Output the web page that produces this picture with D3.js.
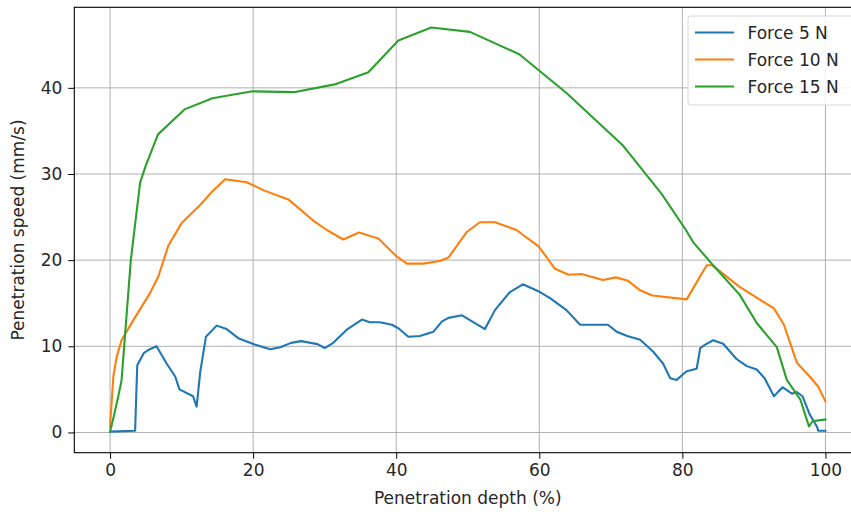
<!DOCTYPE html>
<html>
<head>
<meta charset="utf-8">
<script src="https://cdn.jsdelivr.net/npm/d3@7"></script>
<style>
  html, body { margin: 0; padding: 0; background: #fff; }
  svg { display: block; }
  text { font-family: "DejaVu Sans", sans-serif; fill: #262626; }
</style>
</head>
<body>
<svg id="chart" width="851" height="512"></svg>
<script>
// ---- data ----
const seriesNames = ["Force 5 N", "Force 10 N", "Force 15 N"];
const seriesColors = ["#1f77b4", "#ff7f0e", "#2ca02c"];

const force5 = [[0,0.1],[3.5,0.2],[3.8,7.8],[4.7,9.2],[5.4,9.6],[6.5,10.0],[7.9,8.0],[9.1,6.5],[9.7,5.0],[11.6,4.2],[12.1,3.0],[12.6,7.0],[13.4,11.1],[14.9,12.4],[16.3,12.0],[18.0,10.9],[20.2,10.2],[22.4,9.65],[23.8,9.9],[25.3,10.4],[26.7,10.6],[29.0,10.25],[30.0,9.8],[31.2,10.4],[33.2,12.0],[35.2,13.1],[36.3,12.8],[37.7,12.8],[39.4,12.5],[40.3,12.1],[41.7,11.1],[43.3,11.2],[45.2,11.7],[46.4,12.9],[47.3,13.3],[49.2,13.6],[52.4,12.0],[53.8,14.2],[55.9,16.3],[57.7,17.2],[60.1,16.3],[61.5,15.6],[63.8,14.2],[65.7,12.5],[69.6,12.5],[70.8,11.7],[72.3,11.2],[74.1,10.75],[75.9,9.4],[77.3,8.0],[78.3,6.3],[79.2,6.1],[80.6,7.1],[82.0,7.4],[82.5,9.8],[83.2,10.2],[84.3,10.7],[85.7,10.3],[87.6,8.5],[89.0,7.7],[90.4,7.3],[91.5,6.3],[92.8,4.2],[94.0,5.25],[95.3,4.5],[96.0,4.7],[96.8,4.2],[97.8,2.1],[98.8,0.7],[99.0,0.2],[100,0.2]];

const force10 = [[0,0.7],[0.46,6.5],[0.93,8.8],[1.6,10.7],[3.3,13.1],[5.6,16.2],[6.75,18.1],[8.15,21.7],[10.0,24.3],[12.6,26.4],[14.2,27.9],[16.1,29.4],[19.1,29.05],[21.5,28.1],[25.0,27.0],[28.4,24.6],[30.3,23.5],[32.6,22.4],[34.8,23.2],[37.5,22.5],[40.1,20.4],[41.5,19.6],[43.8,19.6],[46.1,19.9],[47.3,20.3],[49.9,23.3],[51.7,24.4],[53.8,24.4],[56.8,23.5],[59.9,21.6],[62.2,19.0],[64.1,18.3],[65.9,18.4],[68.9,17.7],[70.7,18.0],[72.4,17.6],[74.1,16.5],[75.8,15.9],[80.6,15.45],[83.4,19.4],[84.2,19.4],[88.0,16.9],[92.8,14.4],[94.2,12.5],[96.0,8.1],[97.8,6.5],[99.0,5.3],[100,3.6]];

const force15 = [[0,0.1],[0.5,1.8],[1.2,4.4],[1.6,6.0],[2.9,20.0],[4.2,29.0],[5.0,31.0],[6.7,34.6],[10.4,37.5],[14.3,38.8],[19.9,39.6],[25.7,39.5],[31.4,40.4],[36.1,41.8],[40.3,45.5],[44.9,47.0],[50.3,46.5],[57.2,43.9],[63.8,39.4],[71.7,33.3],[77.1,27.7],[80.5,23.5],[81.5,22.1],[84.3,19.4],[88.0,16.0],[90.4,12.7],[93.2,9.9],[94.6,6.1],[96.5,3.8],[97.7,0.7],[98.2,1.3],[99.0,1.4],[100,1.5]];

const xTicks = [0, 20, 40, 60, 80, 100];
const yTicks = [0, 10, 20, 30, 40];
const xLabel = "Penetration depth (%)";
const yLabel = "Penetration speed (mm/s)";

(function () {
// ---- layout ----
const svg = d3.select("#chart");
const pLeft = 74.3, pRight = 861.2, pTop = 7.3, pBottom = 452.7;
const x = d3.scaleLinear().domain([-5, 105]).range([pLeft, pRight]);
const y = d3.scaleLinear().domain([-2.35, 49.35]).range([pBottom, pTop]);

// grid
const grid = svg.append("g");
grid.selectAll(".gx").data(xTicks).enter().append("line")
  .attr("x1", d => x(d)).attr("x2", d => x(d))
  .attr("y1", pTop).attr("y2", pBottom)
  .attr("stroke", "#b0b0b0").attr("stroke-width", 1);
grid.selectAll(".gy").data(yTicks).enter().append("line")
  .attr("x1", pLeft).attr("x2", pRight)
  .attr("y1", d => y(d)).attr("y2", d => y(d))
  .attr("stroke", "#b0b0b0").attr("stroke-width", 1);

// lines
const line = d3.line().x(d => x(d[0])).y(d => y(d[1]));
const allSeries = [force5, force10, force15];
svg.append("g").selectAll("path").data(allSeries).enter().append("path")
  .attr("d", d => line(d))
  .attr("fill", "none")
  .attr("stroke", (d, i) => seriesColors[i])
  .attr("stroke-width", 2.1)
  .attr("stroke-linejoin", "round")
  .attr("stroke-linecap", "square");

// axes
const xAxis = d3.axisBottom(x).tickValues(xTicks).tickSize(6).tickPadding(5).tickFormat(d3.format("d"));
const yAxis = d3.axisLeft(y).tickValues(yTicks).tickSize(6).tickPadding(6).tickFormat(d3.format("d"));
const gx = svg.append("g").attr("transform", `translate(0,${pBottom})`).call(xAxis);
const gy = svg.append("g").attr("transform", `translate(${pLeft},0)`).call(yAxis);
[gx, gy].forEach(g => {
  g.select(".domain").remove();
  g.selectAll(".tick line").attr("stroke", "#000").attr("stroke-width", 1);
  g.selectAll(".tick text").attr("font-size", 17).attr("fill", "#262626")
    .style("font-family", "'DejaVu Sans', sans-serif");
});

// spines
svg.append("rect")
  .attr("x", pLeft).attr("y", pTop)
  .attr("width", pRight - pLeft).attr("height", pBottom - pTop)
  .attr("fill", "none").attr("stroke", "#000").attr("stroke-width", 1.1);

// axis labels
svg.append("text").attr("x", (pLeft + pRight) / 2).attr("y", 504)
  .attr("text-anchor", "middle").attr("font-size", 17).text(xLabel);
svg.append("text")
  .attr("transform", `translate(24,${(pTop + pBottom) / 2}) rotate(-90)`)
  .attr("text-anchor", "middle").attr("font-size", 17).text(yLabel);

// legend
const lg = svg.append("g");
lg.append("rect").attr("x", 688).attr("y", 16).attr("width", 166).attr("height", 89)
  .attr("rx", 3).attr("fill", "#fff").attr("fill-opacity", 0.85)
  .attr("stroke", "#d6d6d6").attr("stroke-width", 1);
seriesNames.forEach((name, i) => {
  const cy = 32.5 + i * 27;
  lg.append("line").attr("x1", 695).attr("x2", 734).attr("y1", cy).attr("y2", cy)
    .attr("stroke", seriesColors[i]).attr("stroke-width", 2.1);
  lg.append("text").attr("x", 747.5).attr("y", cy).attr("dy", "0.36em")
    .attr("font-size", 17).text(name);
});
})();
</script>
</body>
</html>
